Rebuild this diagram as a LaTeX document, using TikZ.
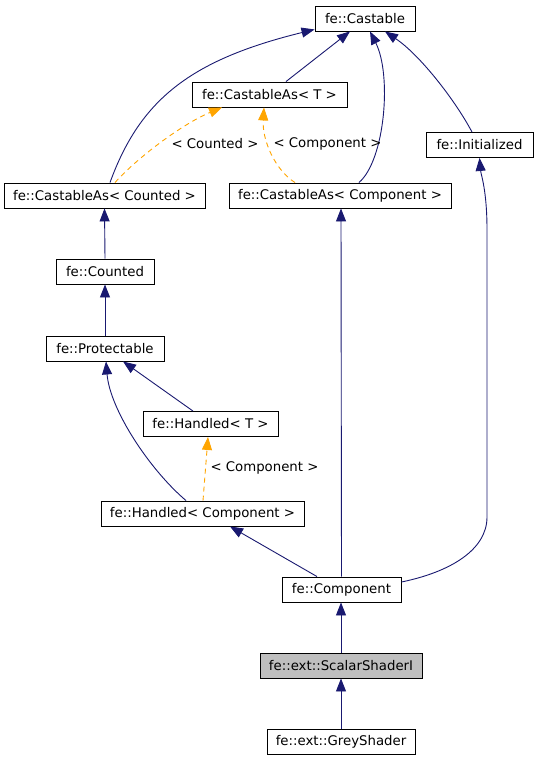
\documentclass[tikz,border=0pt]{standalone}
\usepackage{fontspec}
\setmainfont{DejaVu Sans}
\usetikzlibrary{arrows.meta}

\definecolor{edgeblue}{HTML}{191970}
\definecolor{tmplorange}{HTML}{FFA500}
\definecolor{curgray}{HTML}{BFBFBF}

% boxes, inheritance and template edges
\tikzset{%
    cls/.style={draw=black,fill=white,line width=0.9pt,minimum height=25pt,inner sep=0pt,font=\fontsize{13.3}{16}\selectfont},
    inh/.style={-{Triangle[length=13pt,width=10pt]},edgeblue,line width=0.9pt},
    tmpl/.style={-{Triangle[length=13pt,width=10pt]},tmplorange,line width=0.9pt,dash pattern=on 5pt off 4pt},
    tlabel/.style={inner sep=0pt,font=\fontsize{13.3}{16}\selectfont},
}

\begin{document}
\begin{tikzpicture}[x=1pt,y=-1pt]

\useasboundingbox (0,0) rectangle (539,760);

% classes
\node [cls,minimum width=100pt] (castable) at (365,18.5) {fe::Castable};
\node [cls,minimum width=155pt] (castasT) at (269.5,94.5) {fe::CastableAs< T >};
\node [cls,minimum width=107pt] (initialized) at (479.5,145) {fe::Initialized};
\node [cls,minimum width=201pt] (castasCounted) at (104.5,195.5) {fe::CastableAs< Counted >};
\node [cls,minimum width=222pt] (castasComp) at (340,195.5) {fe::CastableAs< Component >};
\node [cls,minimum width=98pt] (counted) at (105,271.5) {fe::Counted};
\node [cls,minimum width=118pt] (protectable) at (105,348.5) {fe::Protectable};
\node [cls,minimum width=135pt] (handledT) at (210.5,424) {fe::Handled< T >};
\node [cls,minimum width=203pt] (handledComp) at (202.5,513.5) {fe::Handled< Component >};
\node [cls,minimum width=119pt] (component) at (341.5,589.5) {fe::Component};
\node [cls,minimum width=162pt,fill=curgray] (scalarShader) at (341,665.5) {fe::ext::ScalarShaderI};
\node [cls,minimum width=148pt] (greyShader) at (341,741.5) {fe::ext::GreyShader};

% inheritance
\draw [inh] ([xshift=16.5pt]castasT.north) -- ([xshift=-15pt]castable.south);
\draw [inh] ([xshift=5.5pt]castasCounted.north) .. controls (140,100) and (190,60) .. ([yshift=2pt]castable.south west);
\draw [inh] ([xshift=19pt]castasComp.north) .. controls (385,160) and (392,75) .. ([xshift=5pt]castable.south);
\draw [inh] ([xshift=-7.5pt]initialized.north) .. controls (455,100) and (420,55) .. ([xshift=20pt]castable.south);
\draw [inh] (counted.north) -- (castasCounted.south);
\draw [inh] (protectable.north) -- (counted.south);
\draw [inh] ([xshift=-17.5pt]handledT.north) -- ([xshift=18pt]protectable.south);
\draw [inh] ([xshift=-16.5pt]handledComp.north) .. controls (150,470) and (110,410) .. ([xshift=1pt]protectable.south);
\draw [inh] ([xshift=-24.5pt]component.north) -- ([xshift=27.5pt]handledComp.south);
\draw [inh] (component.north) -- ([xshift=1pt]castasComp.south);
\draw [inh] ([yshift=7.5pt]component.east) .. controls (450,572) and (487,550) .. (487,517)
    -- (487,230) .. controls (487,190) and (481,175) .. (initialized.south);
\draw [inh] (scalarShader.north) -- ([xshift=-0.5pt]component.south);
\draw [inh] (greyShader.north) -- (scalarShader.south);

% template instances
\draw [tmpl] ([xshift=10.5pt]castasCounted.north) .. controls (135,160) and (180,125) .. ([xshift=-47.5pt]castasT.south);
\node [tlabel] (lblCounted) at (215,144) {< Counted >};
\draw [tmpl] ([xshift=-45pt]castasComp.north) .. controls (275,170) and (262,140) .. ([xshift=-5.5pt]castasT.south);
\node [tlabel] (lblCastComp) at (327.5,144) {< Component >};
\draw [tmpl] ([xshift=0.5pt]handledComp.north) -- ([xshift=-2.5pt]handledT.south);
\node [tlabel] (lblHandComp) at (264.5,468) {< Component >};

\end{tikzpicture}
\end{document}
